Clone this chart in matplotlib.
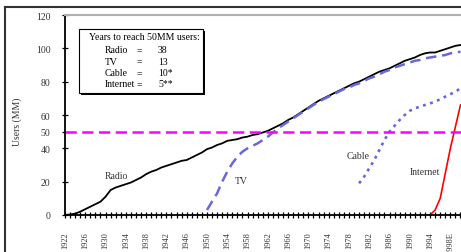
#!/usr/bin/env python3
"""Years to reach 50MM users: radio, TV, cable, internet adoption curves."""

import matplotlib
matplotlib.use("Agg")
import matplotlib.pyplot as plt
from matplotlib.lines import Line2D
from matplotlib.patches import Rectangle

W, H = 461, 253

radio_years = list(range(1922, 2001))
radio_users = [
    0, 0.3, 0.8, 2, 3.5, 5, 6.5, 8, 11, 15,
    16.5, 17.5, 18.5, 19.5, 21, 22.5, 24.5, 26, 27, 28.5,
    29.5, 30.5, 31.5, 32.5, 33, 34.5, 36, 37.5, 39.5, 40.5,
    42, 43, 44.5, 45, 45.5, 46.5, 47, 48, 48.5, 49.5,
    50.5, 52, 53.5, 55, 57, 58.5, 60.5, 62.5, 64.5, 66.5,
    68.5, 70, 71.5, 73, 74.5, 76, 77.5, 79, 80, 81.5,
    83, 84.5, 86, 87, 88, 89.5, 91, 92.5, 93.5, 94.5,
    96, 97, 97.5, 97.5, 98.5, 99.5, 100.5, 101.5, 102,
]

tv_years = list(range(1950, 2001))
tv_users = [
    3, 8, 13, 20, 26, 31, 35, 38, 40, 41.5,
    43, 45, 47, 49.5, 52, 54, 56, 58, 60, 62,
    64, 66, 68, 69.5, 71, 72.5, 74, 75.5, 76.5, 78,
    79, 80.5, 82, 83, 84.5, 86, 87, 88.5, 89.5, 90.5,
    91.5, 92.5, 93, 94, 94.5, 95, 95.5, 96, 97, 97.5, 98,
]

cable_years = list(range(1980, 2001))
cable_users = [
    19, 23, 28, 33, 39, 45, 50, 53.5, 57, 60,
    62.5, 64, 65, 66, 67, 68, 69.5, 71, 72.5, 74, 76,
]

internet_years = [1994, 1995, 1996, 1997, 1998, 1999, 2000]
internet_users = [0, 3, 10, 25, 40, 53, 66]

threshold = 50
y_ticks = [0, 20, 40, 50, 60, 80, 100, 120]
label_years = list(range(1922, 1999, 4))
x_labels = [str(y) if y != 1998 else "1998E" for y in label_years]

legend_title = "Years to reach 50MM users:"
legend_names = ["Radio", "TV", "Cable", "Internet"]
legend_values = ["38", "13", "10*", "5**"]

plt.rcParams["font.family"] = ["Liberation Serif", "DejaVu Serif"]


def fx(x):
    return x / W


def fy(y):
    return 1 - y / H


fig = plt.figure(figsize=(W / 100, H / 100), dpi=100)
ax = fig.add_axes([fx(65), fy(216), fx(461) - fx(65), fy(16) - fy(216)])

blue = "#6868dc"
ax.plot(radio_years, radio_users, color="black", lw=1.3)
ax.plot(tv_years, tv_users, color=blue, lw=1.8, dashes=(4.2, 2.3))
ax.plot(cable_years, cable_users, color=blue, lw=1.9, dashes=(1.1, 1.7))
ax.plot(internet_years, internet_users, color="red", lw=1.2)
ax.axhline(threshold, color="#ff00ff", lw=1.8, dashes=(4.5, 2.2))

ax.set_xlim(1922, 2000.1)
ax.set_ylim(0, 120)

ax.set_yticks(y_ticks)
ax.set_yticklabels([str(v) for v in y_ticks], fontsize=7, color="#333333")
ax.set_xticks(label_years)
ax.set_xticklabels(x_labels, rotation=90, fontsize=6, color="#333333")
ax.set_xticks(range(1922, 2001), minor=True)
ax.tick_params(axis="both", which="both", direction="inout", length=5, width=0.9)
ax.tick_params(axis="x", which="major", pad=9)
ax.tick_params(axis="y", which="major", pad=8)

ax.spines["right"].set_visible(False)
ax.spines["top"].set_color("#b0b0b0")
ax.spines["top"].set_linewidth(1.5)
ax.spines["left"].set_linewidth(1.3)
ax.spines["bottom"].set_linewidth(1.3)

ax.text(1932.1, 23.4, "Radio", fontsize=7, ha="center", va="center", color="#333333")
ax.text(1956.7, 20.4, "TV", fontsize=7, ha="center", va="center", color="#333333")
ax.text(1979.8, 35.4, "Cable", fontsize=7, ha="center", va="center", color="#333333")
ax.text(1993.0, 25.8, "Internet", fontsize=7, ha="center", va="center", color="#333333")

fig.text(fx(17), fy(122), "Users (MM)", rotation=90, fontsize=7,
         ha="center", va="center", color="#333333")

# legend box with drop shadow
fig.patches.append(Rectangle((fx(81), fy(96)), fx(124), fy(32) - fy(96),
                             transform=fig.transFigure, facecolor="black",
                             edgecolor="none", zorder=5))
fig.patches.append(Rectangle((fx(79), fy(94)), fx(124), fy(30) - fy(94),
                             transform=fig.transFigure, facecolor="white",
                             edgecolor="black", lw=0.8, zorder=6))
fig.text(fx(89), fy(38), legend_title, fontsize=7, va="center", zorder=7)
for i, (name, val) in enumerate(zip(legend_names, legend_values)):
    y = 51 + i * 11.2
    fig.text(fx(105), fy(y), name, fontsize=7, va="center", zorder=7)
    fig.text(fx(137), fy(y), "=", fontsize=7, va="center", zorder=7)
    fig.text(fx(158), fy(y), val, fontsize=7, va="center", zorder=7)

# outer frame, cut off at right and bottom like the source image
fig.lines.append(Line2D([fx(5), fx(5)], [0, fy(8)], transform=fig.transFigure,
                        color="#333333", lw=1.5))
fig.lines.append(Line2D([fx(5), 1], [fy(8), fy(8)], transform=fig.transFigure,
                        color="#333333", lw=1.5))

fig.savefig("out.png", dpi=100)
